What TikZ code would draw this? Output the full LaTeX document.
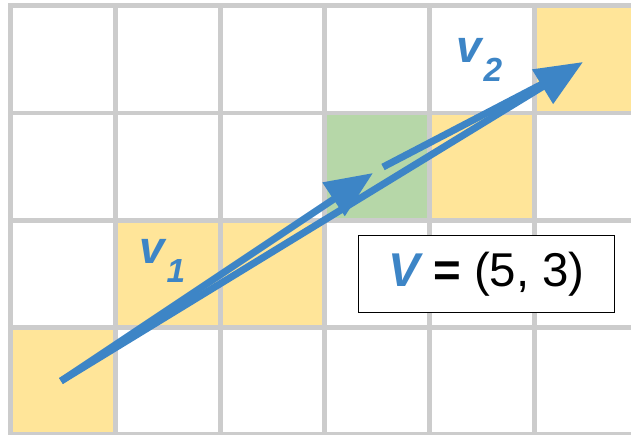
\documentclass[tikz,border=0pt]{standalone}
\usepackage{fontspec}
\setmainfont{Liberation Sans}
\usetikzlibrary{arrows.meta}

\definecolor{vecblue}{HTML}{3D85C6}
\definecolor{cellyellow}{HTML}{FFE599}
\definecolor{cellgreen}{HTML}{B6D7A8}
\definecolor{gridgray}{HTML}{CCCCCC}

\tikzset{
  gridline/.style={gridgray, line width=2.8pt, line cap=rect},
  vec/.style={vecblue, line width=4pt},
  vectip/.style={-{Triangle[length=27pt, width=22pt]}},
  veclabel/.style={vecblue, inner sep=0pt, anchor=base west,
    font=\fontsize{26}{26}\selectfont\bfseries\itshape},
  sumbox/.style={draw, line width=1.1pt, fill=white, inner sep=0pt,
    minimum width=5.12cm, minimum height=1.54cm,
    font=\fontsize{27}{27}\selectfont}
}
\newcommand{\lowsub}[1]{\kern1pt\raisebox{-0.42em}{\fontsize{19}{19}\selectfont #1}}

\begin{document}
\begin{tikzpicture}[x=0.02cm, y=-0.02cm]
  \useasboundingbox (0,0) rectangle (631,434);
  \clip (0,0) rectangle (631,434);

  % coloured cells
  \foreach \c/\r/\col in {5/0/cellyellow, 3/1/cellgreen, 4/1/cellyellow,
                          1/2/cellyellow, 2/2/cellyellow, 0/3/cellyellow}
    \fill[\col] ({10.8+104.7*\c},{5.8+107.2*\r}) rectangle +(104.7,107.2);

  % grid
  \foreach \i in {0,...,6}
    \draw[gridline] ({10.8+104.7*\i},5.8) -- ({10.8+104.7*\i},434.6);
  \foreach \j in {0,...,4}
    \draw[gridline] (10.8,{5.8+107.2*\j}) -- (639,{5.8+107.2*\j});

  % vectors
  \coordinate (start) at (61,381);
  \coordinate (tip)   at (583,62);
  \coordinate (mid)   at (373,173);
  \coordinate (v2s)   at (383,167);
  \coordinate (v2e)   at (548,81);

  \draw[vec, vectip] (start) -- (mid);
  \draw[vec] (v2s) -- (v2e);
  \draw[vec, vectip] (start) -- (tip);

  \node[veclabel] (lblone) at (139,263) {v\lowsub{1}};
  \node[veclabel] (lbltwo) at (456,62) {v\lowsub{2}};

  \node[sumbox] (sum) at (486.5,274)
    {\textcolor{vecblue}{\bfseries\itshape V} \textbf{=} (5, 3)};
\end{tikzpicture}
\end{document}
